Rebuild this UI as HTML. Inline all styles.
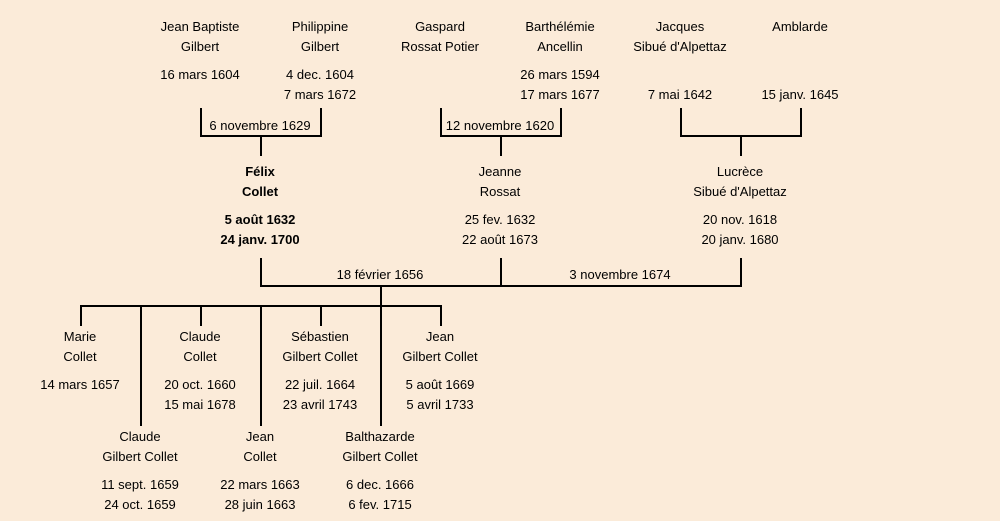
<!DOCTYPE html>
<html><head><meta charset="utf-8"><style>
body{margin:0;width:1000px;height:521px;background:#fbebd9;position:relative;overflow:hidden;font-family:"Comic Sans MS","Liberation Sans","DejaVu Sans",sans-serif;font-size:13px;color:#000}
.t{position:absolute;width:200px;margin-left:-100px;text-align:center;line-height:20px;white-space:nowrap}
.b{font-weight:bold}
svg{position:absolute;left:0;top:0}
</style></head><body>
<svg width="1000" height="521">
<g stroke="#000" stroke-width="2" fill="none">
<path d="M201 108V136H321V108M261 136V156"/>
<path d="M441 108V136H561V108M501 136V156"/>
<path d="M681 108V136H801V108M741 136V156"/>
<path d="M261 258V286H741V258M501 258V286M381 286V426"/>
<path d="M81 326V306H441V326M141 306V426M201 306V326M261 306V426M321 306V326"/>
</g>
</svg>
<div class="t" style="left:200px;top:17px">Jean Baptiste<br>Gilbert</div>
<div class="t" style="left:200px;top:65px">16 mars 1604</div>
<div class="t" style="left:320px;top:17px">Philippine<br>Gilbert</div>
<div class="t" style="left:320px;top:65px">4 dec. 1604<br>7 mars 1672</div>
<div class="t" style="left:440px;top:17px">Gaspard<br>Rossat Potier</div>
<div class="t" style="left:560px;top:17px">Barthélémie<br>Ancellin</div>
<div class="t" style="left:560px;top:65px">26 mars 1594<br>17 mars 1677</div>
<div class="t" style="left:680px;top:17px">Jacques<br>Sibué d'Alpettaz</div>
<div class="t" style="left:680px;top:85px">7 mai 1642</div>
<div class="t" style="left:800px;top:17px">Amblarde</div>
<div class="t" style="left:800px;top:85px">15 janv. 1645</div>
<div class="t" style="left:260px;top:116px">6 novembre 1629</div>
<div class="t" style="left:500px;top:116px">12 novembre 1620</div>
<div class="t b" style="left:260px;top:162px">Félix<br>Collet</div>
<div class="t b" style="left:260px;top:210px">5 août 1632<br>24 janv. 1700</div>
<div class="t" style="left:500px;top:162px">Jeanne<br>Rossat</div>
<div class="t" style="left:500px;top:210px">25 fev. 1632<br>22 août 1673</div>
<div class="t" style="left:740px;top:162px">Lucrèce<br>Sibué d'Alpettaz</div>
<div class="t" style="left:740px;top:210px">20 nov. 1618<br>20 janv. 1680</div>
<div class="t" style="left:380px;top:265px">18 février 1656</div>
<div class="t" style="left:620px;top:265px">3 novembre 1674</div>
<div class="t" style="left:80px;top:327px">Marie<br>Collet</div>
<div class="t" style="left:80px;top:375px">14 mars 1657</div>
<div class="t" style="left:200px;top:327px">Claude<br>Collet</div>
<div class="t" style="left:200px;top:375px">20 oct. 1660<br>15 mai 1678</div>
<div class="t" style="left:320px;top:327px">Sébastien<br>Gilbert Collet</div>
<div class="t" style="left:320px;top:375px">22 juil. 1664<br>23 avril 1743</div>
<div class="t" style="left:440px;top:327px">Jean<br>Gilbert Collet</div>
<div class="t" style="left:440px;top:375px">5 août 1669<br>5 avril 1733</div>
<div class="t" style="left:140px;top:427px">Claude<br>Gilbert Collet</div>
<div class="t" style="left:140px;top:475px">11 sept. 1659<br>24 oct. 1659</div>
<div class="t" style="left:260px;top:427px">Jean<br>Collet</div>
<div class="t" style="left:260px;top:475px">22 mars 1663<br>28 juin 1663</div>
<div class="t" style="left:380px;top:427px">Balthazarde<br>Gilbert Collet</div>
<div class="t" style="left:380px;top:475px">6 dec. 1666<br>6 fev. 1715</div>
</body></html>
